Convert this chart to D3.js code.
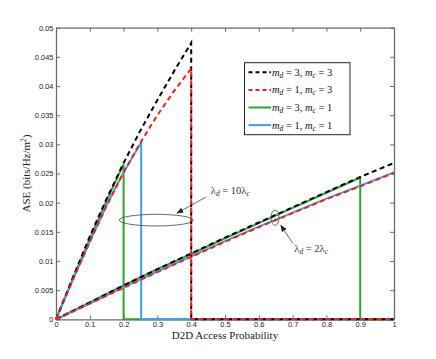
<!DOCTYPE html>
<html><head><meta charset="utf-8">
<script src="https://cdn.jsdelivr.net/npm/d3@7"></script>
<style>body{margin:0;background:#fff}svg{display:block}</style>
</head><body>
<script>
// ---- data ----
const xTicks = [0,0.1,0.2,0.3,0.4,0.5,0.6,0.7,0.8,0.9,1];
const xTickLabels = ["0","0.1","0.2","0.3","0.4","0.5","0.6","0.7","0.8","0.9","1"];
const yTicks = [0,0.005,0.01,0.015,0.02,0.025,0.03,0.035,0.04,0.045,0.05];
const yTickLabels = ["0","0.005","0.01","0.015","0.02","0.025","0.03","0.035","0.04","0.045","0.05"];

// lambda_d = 10 lambda_c (steep curves), then drop to zero
const xHighBlackRed = [0,0.05,0.1,0.15,0.2,0.25,0.3,0.35,0.4];
const blackHigh = [0,0.0072,0.0142,0.0207,0.0268,0.0324,0.0376,0.0426,0.0474];
const redHigh   = [0,0.0068,0.0133,0.0195,0.0252,0.0303,0.0350,0.0392,0.0430];
const xHighGreen = [0,0.05,0.1,0.15,0.2];
const greenHigh  = [0,0.0070,0.0138,0.0204,0.0266];
const xHighBlue  = [0,0.05,0.1,0.15,0.2,0.252];
const blueHigh   = [0,0.0068,0.0133,0.0196,0.0252,0.0303];

// lambda_d = 2 lambda_c (shallow curves)
const xLow = [0,0.1,0.2,0.3,0.4,0.5,0.6,0.7,0.8,0.9,1];
const blackLow = [0,0.0029,0.0058,0.0086,0.0113,0.0140,0.0166,0.0192,0.0218,0.0244,0.0268];
const redLow   = [0,0.0027,0.0054,0.0081,0.0107,0.0133,0.0158,0.0182,0.0206,0.0228,0.0251];
const xLowGreen = [0,0.1,0.2,0.3,0.4,0.5,0.6,0.7,0.8,0.9];
const greenLow = [0,0.0029,0.0058,0.0086,0.0112,0.0139,0.0165,0.0191,0.0217,0.0243];
const blueLow  = [0,0.0027,0.0055,0.0082,0.0108,0.0134,0.0159,0.0183,0.0207,0.0229,0.0252];

const legendLabels = [["3","3"],["1","3"],["3","1"],["1","1"]];
const colors = {black:"#000000", red:"#ff1a1a", green:"#2ba52b", blue:"#3f9ef0"};

// ---- chart ----
const W=436,H=359;
const M={l:56,r:42,t:28,b:40};
const svg=d3.select("body").append("svg").attr("width",W).attr("height",H);
const x=d3.scaleLinear().domain([0,1]).range([M.l,W-M.r]);
const y=d3.scaleLinear().domain([0,0.05]).range([H-M.b+0.3,M.t-0.3]);

const axisColor="#6a6a6a";
// axes
const gx=svg.append("g").attr("transform",`translate(0,${y(0)})`)
  .call(d3.axisBottom(x).tickValues(xTicks).tickFormat((d,i)=>xTickLabels[i]).tickSizeInner(-4).tickSizeOuter(0).tickPadding(4));
const gxt=svg.append("g").attr("transform",`translate(0,${y(0.05)})`)
  .call(d3.axisTop(x).tickValues(xTicks).tickFormat("").tickSizeInner(-4).tickSizeOuter(0));
const gy=svg.append("g").attr("transform",`translate(${x(0)},0)`)
  .call(d3.axisLeft(y).tickValues(yTicks).tickFormat((d,i)=>yTickLabels[i]).tickSizeInner(-4).tickSizeOuter(0).tickPadding(2.5));
const gyr=svg.append("g").attr("transform",`translate(${x(1)},0)`)
  .call(d3.axisRight(y).tickValues(yTicks).tickFormat("").tickSizeInner(-4).tickSizeOuter(0));
[gx,gxt,gy,gyr].forEach(g=>{
  g.select(".domain").attr("stroke",axisColor).attr("stroke-width",1.3);
  g.selectAll(".tick line").attr("stroke",axisColor).attr("stroke-width",1);
  g.selectAll(".tick text").attr("fill","#222").style("font-family","'Liberation Sans',Arial,sans-serif").style("font-size","7.5px");
});
gx.selectAll(".tick text").attr("dy","0.55em");

const line=d3.line().x(d=>x(d[0])).y(d=>y(d[1]));
function pts(xs,ys){return xs.map((v,i)=>[v,ys[i]]);}
function withDrop(xs,ys){const p=pts(xs,ys);const xe=xs[xs.length-1];p.push([xe,0]);p.push([1,0]);return p;}

const series=[
  {p:withDrop(xHighGreen,greenHigh), c:colors.green, dash:null},
  {p:withDrop(xHighBlue,blueHigh), c:colors.blue, dash:null},
  {p:withDrop(xLowGreen,greenLow), c:colors.green, dash:null},
  {p:pts(xLow,blueLow), c:colors.blue, dash:null},
  {p:pts(xLow,blackLow), c:colors.black, dash:"5,3.5"},
  {p:withDrop(xHighBlackRed,blackHigh), c:colors.black, dash:"5,3.5"},
  {p:pts(xLow,redLow), c:colors.red, dash:"5,3.5"},
  {p:withDrop(xHighBlackRed,redHigh), c:colors.red, dash:"5,3.5"},
];
// reorder so red dashes are drawn where red lies beneath
series.forEach(s=>{
  svg.append("path").attr("d",line(s.p)).attr("fill","none").attr("stroke",s.c)
    .attr("stroke-width",2).attr("stroke-dasharray",s.dash).attr("stroke-linejoin","miter");
});

// annotations
const ann=svg.append("g").attr("fill","none").attr("stroke","#444").attr("stroke-width",0.8);
ann.append("ellipse").attr("cx",x(0.2967)).attr("cy",y(0.0170)).attr("rx",37).attr("ry",5.8);
ann.append("ellipse").attr("cx",x(0.648)).attr("cy",y(0.0174)).attr("rx",4).attr("ry",7.6);
svg.append("defs").append("marker").attr("id","ah").attr("viewBox","0 0 10 10").attr("refX",9).attr("refY",5)
  .attr("markerWidth",7).attr("markerHeight",7).attr("markerUnits","userSpaceOnUse").attr("orient","auto")
  .append("path").attr("d","M0,1 L10,5 L0,9 Z").attr("fill","#222");
ann.append("line").attr("x1",x(0.445)).attr("y1",y(0.0210)).attr("x2",x(0.358)).attr("y2",y(0.0182)).attr("marker-end","url(#ah)");
ann.append("line").attr("x1",x(0.701)).attr("y1",y(0.0130)).attr("x2",x(0.665)).attr("y2",y(0.0161)).attr("marker-end","url(#ah)");

const serif="'Liberation Serif','DejaVu Serif',serif";
function lam(t,xp,yp,mid){
  const tx=svg.append("text").attr("x",xp).attr("y",yp).style("font-family",serif).style("font-size","10.5px").attr("fill","#333");
  tx.append("tspan").text("λ");
  tx.append("tspan").text("d").style("font-style","italic").style("font-size","7.5px").attr("dy",2);
  tx.append("tspan").text(" = "+mid+"λ").attr("dy",-2);
  tx.append("tspan").text("c").style("font-style","italic").style("font-size","7.5px").attr("dy",2);
}
lam(null,x(0.458),y(0.0214),"10");
lam(null,x(0.705),y(0.0116),"2");

// legend
const lg=svg.append("g");
const lx=244.5, ly=62.7, lw=105.5, lh=72;
lg.append("rect").attr("x",lx).attr("y",ly).attr("width",lw).attr("height",lh).attr("fill","#fff").attr("stroke","#222").attr("stroke-width",1);
const legItems=[{c:colors.black,dash:"4,3"},{c:colors.red,dash:"4,3"},{c:colors.green,dash:null},{c:colors.blue,dash:null}];
legItems.forEach((it,i)=>{
  const yy=ly+9.6+i*17.6;
  lg.append("line").attr("x1",lx+4).attr("x2",lx+26.5).attr("y1",yy).attr("y2",yy).attr("stroke",it.c).attr("stroke-width",2).attr("stroke-dasharray",it.dash);
  const t=lg.append("text").attr("x",lx+27.5).attr("y",yy+3.5).style("font-family",serif).style("font-size","10.5px").attr("fill","#111");
  t.append("tspan").text("m").style("font-style","italic");
  t.append("tspan").text("d").style("font-style","italic").style("font-size","7.5px").attr("dy",2);
  t.append("tspan").text(" = "+legendLabels[i][0]+", ").attr("dy",-2);
  t.append("tspan").text("m").style("font-style","italic");
  t.append("tspan").text("c").style("font-style","italic").style("font-size","7.5px").attr("dy",2);
  t.append("tspan").text(" = "+legendLabels[i][1]).attr("dy",-2);
});

// axis labels
svg.append("text").attr("x",(x(0)+x(1))/2).attr("y",339).attr("text-anchor","middle")
  .style("font-family",serif).style("font-size","11px").attr("fill","#222").text("D2D Access Probability");
const yl=svg.append("text").attr("transform",`translate(30,${(y(0)+y(0.05))/2}) rotate(-90)`).attr("text-anchor","middle")
  .style("font-family",serif).style("font-size","11px").attr("fill","#222");
yl.append("tspan").text("ASE (bits/Hz/m");
yl.append("tspan").text("2").style("font-size","7.5px").attr("dy",-4);
yl.append("tspan").text(")").attr("dy",4);
</script>
</body></html>
